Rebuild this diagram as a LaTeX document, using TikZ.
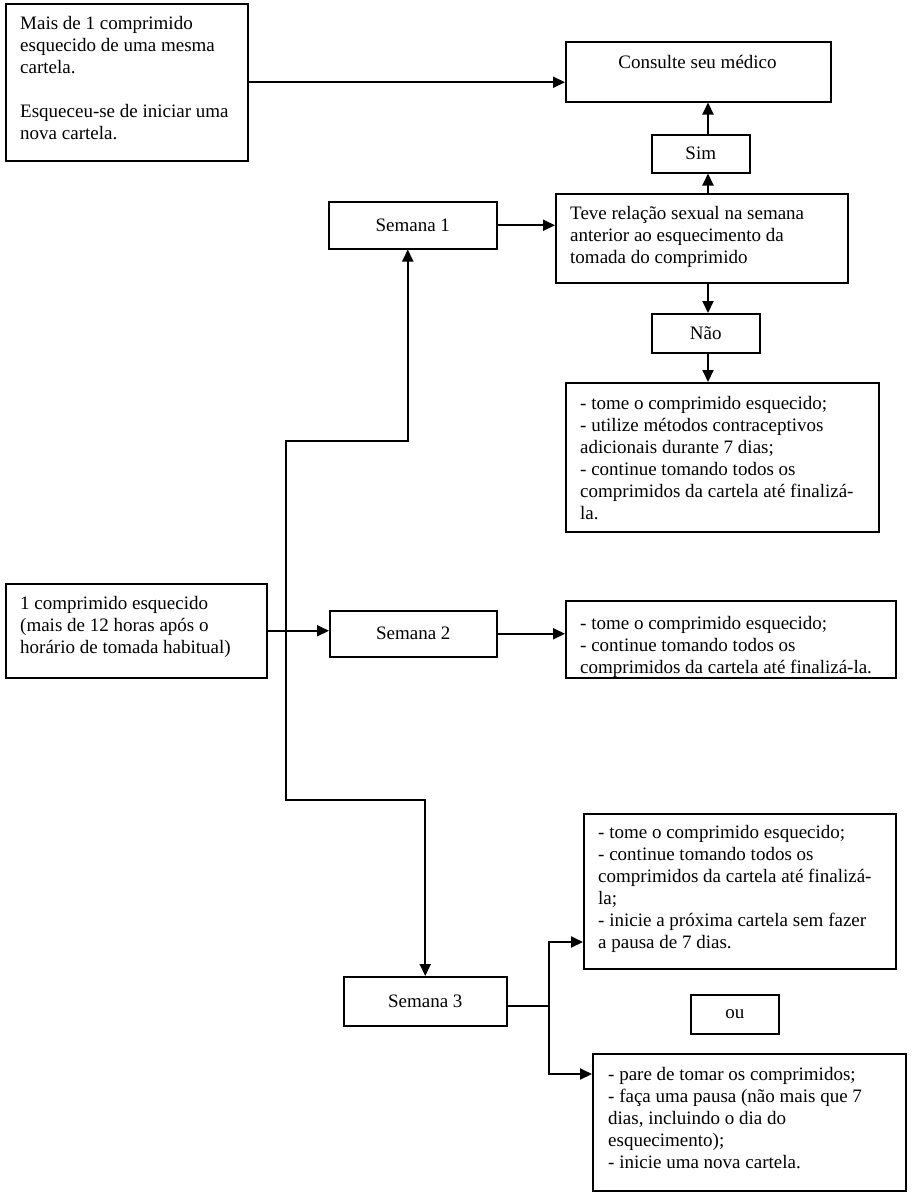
\documentclass[tikz,border=0pt]{standalone}
\usepackage{fontspec}
\setmainfont{Liberation Serif}
\usetikzlibrary{arrows.meta}
\newcommand\ptext[1]{\parbox[t]{420pt}{#1}}
\begin{document}
\begin{tikzpicture}[x=1pt,y=-1pt,
  box/.style={draw=black, line width=1.5pt, fill=white, inner sep=0pt, anchor=north west},
  lbl/.style={font=\fontsize{19}{22}\selectfont},
  txt/.style={font=\fontsize{19}{22}\selectfont, inner sep=0pt, anchor=base west},
  arr/.style={line width=2pt, -{Triangle[length=12pt,width=11pt]}},
  ln/.style={line width=2pt}]
\useasboundingbox (0,0) rectangle (922,1202);
\fill[white] (0,0) rectangle (922,1202);

% boxes
\node[box, minimum width=242pt, minimum height=157pt] (A) at (5,3) {};
\node[box, minimum width=265pt, minimum height=60pt] (Cons) at (565,41) {};
\node[box, lbl, minimum width=98pt, minimum height=38pt] (Sim) at (651,134) {Sim};
\node[box, lbl, minimum width=168pt, minimum height=47pt] (S1) at (328,201) {Semana 1};
\node[box, minimum width=292pt, minimum height=89pt] (Teve) at (555,193) {};
\node[box, lbl, minimum width=108pt, minimum height=39pt] (Nao) at (651,313) {Não};
\node[box, minimum width=313pt, minimum height=149pt] (B) at (565,382) {};
\node[box, minimum width=261pt, minimum height=94pt] (C) at (5,583) {};
\node[box, lbl, minimum width=167pt, minimum height=46pt] (S2) at (329,610) {Semana 2};
\node[box, minimum width=330pt, minimum height=77pt] (D) at (565,600) {};
\node[box, lbl, minimum width=163pt, minimum height=49pt] (S3) at (343,976) {Semana 3};
\node[box, minimum width=312pt, minimum height=155pt] (E) at (583,813) {};
\node[box, lbl, minimum width=88pt, minimum height=39pt] (ou) at (690,994) {ou};
\node[box, minimum width=313pt, minimum height=137pt] (F) at (592,1053) {};

% texts
\node[txt] (At) at (20,29.5) {\ptext{Mais de 1 comprimido\\ esquecido de uma mesma\\ cartela.\\[22pt] Esqueceu-se de iniciar uma\\ nova cartela.}};
\node[txt, anchor=base] (Const) at (697.5,68.5) {Consulte seu médico};
\node[txt] (Tevet) at (570,219.5) {\ptext{Teve relação sexual na semana\\ anterior ao esquecimento da\\ tomada do comprimido}};
\node[txt] (Bt) at (580,409.5) {\ptext{- tome o comprimido esquecido;\\ - utilize métodos contraceptivos\\ adicionais durante 7 dias;\\ - continue tomando todos os\\ comprimidos da cartela até finalizá-\\ la.}};
\node[txt] (Ct) at (20,609.5) {\ptext{1 comprimido esquecido\\ (mais de 12 horas após o\\ horário de tomada habitual)}};
\begin{scope}
\clip (566,601) rectangle (894,676);
\node[txt] (Dt) at (580,629.5) {\ptext{- tome o comprimido esquecido;\\ - continue tomando todos os\\ comprimidos da cartela até finalizá-la.}};
\end{scope}
\node[txt] (Et) at (598,838.5) {\ptext{- tome o comprimido esquecido;\\ - continue tomando todos os\\ comprimidos da cartela até finalizá-\\ la;\\ - inicie a próxima cartela sem fazer\\ a pausa de 7 dias.}};
\node[txt] (Ft) at (608,1080.5) {\ptext{- pare de tomar os comprimidos;\\ - faça uma pausa (não mais que 7\\ dias, incluindo o dia do\\ esquecimento);\\ - inicie uma nova cartela.}};

% helper coordinates
\coordinate (colx) at (708,0);
\coordinate (t1) at (286,441);
\coordinate (t2) at (286,800);
\coordinate (br) at (549,1006);
\coordinate (eIn) at (583,942);
\coordinate (fIn) at (592,1074);

% connectors
\draw[arr] (A.east) -- (A.east -| Cons.west);
\draw[arr] (colx |- Teve.north) -- (colx |- Sim.south);
\draw[arr] (colx |- Sim.north) -- (colx |- Cons.south);
\draw[arr] (S1.east) -- (S1.east -| Teve.west);
\draw[arr] (colx |- Teve.south) -- (colx |- Nao.north);
\draw[arr] (colx |- Nao.south) -- (colx |- B.north);
\draw[arr] (t2) -- (t1) -| ([xshift=-5pt]S1.south);
\draw[arr] (t1) -- (t2) -| (S3.north);
\draw[arr] (C.east) -- (C.east -| S2.west);
\draw[arr] (S2.east) -- (S2.east -| D.west);
\draw[ln] (S3.east |- br) -- (br);
\draw[arr] (br) |- (eIn);
\draw[arr] (br) |- (fIn);
\end{tikzpicture}
\end{document}
